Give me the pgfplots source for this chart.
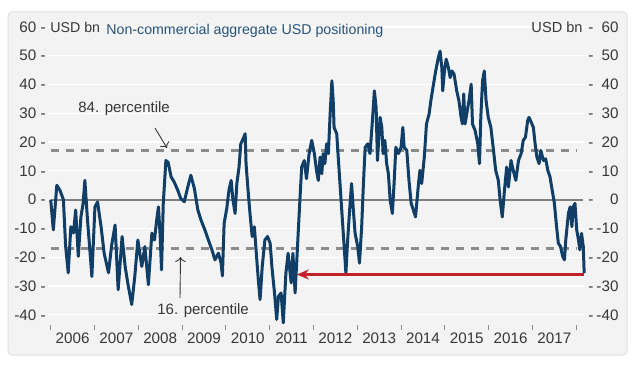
\documentclass[border=0pt]{standalone}
\usepackage{fontspec}
\setmainfont{Liberation Sans}
\usepackage{pgfplots}
\pgfplotsset{compat=1.18}
\usetikzlibrary{arrows.meta}
\definecolor{panel}{RGB}{243,243,243}
\definecolor{panelborder}{RGB}{224,224,224}
\definecolor{lineblue}{RGB}{16,62,102}
\definecolor{titleblue}{RGB}{38,82,122}
\definecolor{txt}{RGB}{55,55,55}
\definecolor{dashgray}{RGB}{140,140,140}
\definecolor{zerogray}{RGB}{128,128,128}
\definecolor{arrowred}{RGB}{196,32,44}
\newcommand\lab[1]{#1~-}
\newcommand\rlab[1]{-\makebox[12.5pt][r]{#1}}
\begin{document}
\begin{tikzpicture}[x=0.5pt,y=0.5pt]
\useasboundingbox (0,0) rectangle (640,364);
\fill[panel, draw=panelborder, line width=0.5pt, rounded corners=2pt] (8,9) rectangle (627,352);
\begin{axis}[
  at={(23.75pt,18.1pt)}, anchor=south west, scale only axis,
  width=269.25pt, height=152.6pt,
  xmin=2005.927, xmax=2018.222, ymin=-44.5, ymax=61.5,
  axis line style={draw=none},
  ytick={-40,-30,-20,-10,0,10,20,30,40,50,60},
  yticklabels={\lab{-40},\lab{-30},\lab{-20},\lab{-10},\lab{0},\lab{10},\lab{20},\lab{30},\lab{40},\lab{50},\lab{60}},
  yticklabel style={anchor=east, inner sep=0pt, xshift=-0.75pt, text=txt, font=\fontsize{7.6}{9}\selectfont},
  xtick={2006.5,2007.5,2008.5,2009.5,2010.5,2011.5,2012.5,2013.5,2014.5,2015.5,2016.5,2017.5},
  xticklabels={2006,2007,2008,2009,2010,2011,2012,2013,2014,2015,2016,2017},
  xticklabel style={anchor=north, inner sep=0pt, yshift=-2.5pt, text=txt, font=\fontsize{7.6}{9}\selectfont},
  minor xtick={2006,2007,2008,2009,2010,2011,2012,2013,2014,2015,2016,2017,2018},
  xtick pos=bottom, ytick pos=left,
  major tick length=0pt, minor tick length=2.5pt, tick align=center,
  minor x tick style={draw=gray!90, line width=0.5pt},
  ymajorgrids, major grid style={white, line width=0.6pt},
]
\addplot[zerogray, line width=1pt, forget plot] coordinates {(2006,0) (2018.15,0)};
\addplot[dashgray, line width=1.25pt, dash pattern=on 4pt off 3.5pt, forget plot] coordinates {(2006,17) (2018.0,17)};
\addplot[dashgray, line width=1.25pt, dash pattern=on 4pt off 3.5pt, forget plot] coordinates {(2006,-17) (2018.0,-17)};
\addplot[lineblue, line width=1.5pt, line join=round] table {
x y
2006.00 0
2006.06 -10.5
2006.14 5
2006.21 3.3
2006.29 0
2006.34 -16
2006.40 -25.4
2006.46 -9.4
2006.52 -11.6
2006.57 -3.6
2006.63 -19.7
2006.69 -6
2006.74 -1.3
2006.78 6.7
2006.84 -7
2006.90 -18.6
2006.94 -26.7
2007.01 -2.5
2007.07 -0.8
2007.15 -9.4
2007.22 -18.6
2007.32 -25.4
2007.39 -16
2007.47 -8.8
2007.54 -31.3
2007.63 -12.8
2007.70 -23.2
2007.76 -29
2007.85 -36.4
2007.92 -26.7
2007.99 -14
2008.08 -23.2
2008.15 -16.3
2008.23 -29.5
2008.31 -11.6
2008.37 -14
2008.42 -7
2008.46 -2.5
2008.50 -12.8
2008.53 -24.4
2008.57 -1.3
2008.63 13.6
2008.68 13
2008.75 7.9
2008.82 6.1
2008.90 3.3
2008.97 0.4
2009.05 -0.7
2009.13 4.4
2009.20 8.5
2009.28 3.9
2009.36 -3.6
2009.43 -7
2009.52 -10.5
2009.60 -14
2009.68 -17.4
2009.75 -20.9
2009.83 -18.6
2009.89 -22
2009.92 -26.5
2009.96 -8.2
2010.02 -3
2010.07 3.3
2010.12 6.7
2010.16 0
2010.21 -4.8
2010.25 5.6
2010.30 11.3
2010.34 19.4
2010.41 21.7
2010.44 22.9
2010.46 12.5
2010.50 4.4
2010.55 -4.8
2010.60 -12.8
2010.65 -9.4
2010.70 -19.7
2010.74 -27.8
2010.78 -34.7
2010.83 -23.2
2010.89 -14
2010.95 -12.8
2011.01 -15.1
2011.05 -23.2
2011.11 -32.4
2011.16 -41.6
2011.20 -33.6
2011.26 -32.4
2011.31 -42.8
2011.37 -25.5
2011.42 -18.6
2011.49 -28.9
2011.53 -18.6
2011.58 -32.4
2011.62 -20.9
2011.65 -11.7
2011.69 0
2011.73 11.3
2011.79 13.6
2011.84 7.3
2011.90 16
2011.96 20.6
2012.02 16
2012.07 10
2012.11 6.7
2012.15 14.8
2012.19 9
2012.22 16
2012.26 12.5
2012.30 19.4
2012.34 16
2012.38 29.8
2012.42 41.3
2012.45 34.4
2012.47 25.1
2012.53 22.9
2012.58 11.3
2012.64 -2.5
2012.68 -11.7
2012.74 -25.5
2012.78 -14
2012.83 -2.5
2012.87 5.6
2012.91 -3.6
2012.95 -11.7
2013.01 -16.3
2013.05 -22
2013.10 -9.4
2013.14 5.6
2013.18 18.2
2013.24 19.4
2013.29 16
2013.34 26.3
2013.39 37.8
2013.43 32
2013.46 13.6
2013.52 28.6
2013.56 25.1
2013.59 16
2013.63 20.6
2013.67 12.5
2013.71 9
2013.75 0
2013.80 -4.8
2013.84 5.6
2013.88 18.2
2013.94 16
2014.00 18.2
2014.04 25.1
2014.07 18.2
2014.13 17.1
2014.18 6.7
2014.23 -1.3
2014.28 -3.6
2014.33 -6
2014.39 4.4
2014.43 10.2
2014.47 5.6
2014.53 14.8
2014.58 26.3
2014.64 29.8
2014.68 34.4
2014.74 40.1
2014.79 44.7
2014.85 49.3
2014.89 51.6
2014.93 45.9
2014.95 37.8
2014.99 44.7
2015.03 48.8
2015.08 45.9
2015.12 42.4
2015.16 44.7
2015.21 43.6
2015.27 37.8
2015.32 34.4
2015.37 28.6
2015.40 26.3
2015.43 36.7
2015.46 26.3
2015.50 29.8
2015.55 34.4
2015.60 40.1
2015.63 26.3
2015.69 24
2015.75 19.4
2015.79 12.5
2015.82 28.6
2015.86 41.3
2015.90 44.7
2015.94 34.4
2015.99 28.6
2016.05 25.1
2016.11 17.1
2016.16 10.2
2016.22 6.7
2016.26 0
2016.31 -6
2016.36 3.3
2016.41 11.3
2016.45 4.4
2016.51 13.6
2016.56 10.2
2016.62 6.7
2016.68 13.6
2016.74 16
2016.79 20.6
2016.84 21.7
2016.89 27.5
2016.92 28.6
2016.97 26.9
2017.02 25.1
2017.06 19.4
2017.10 14.8
2017.15 12.5
2017.19 17.1
2017.25 13.6
2017.30 14.2
2017.35 10.2
2017.40 7.9
2017.45 3.3
2017.50 -1.3
2017.55 -9.4
2017.59 -15.1
2017.64 -16.3
2017.69 -19.7
2017.73 -20.9
2017.76 -14
2017.82 -4.8
2017.86 -2.5
2017.90 -9.4
2017.93 -2.5
2017.97 -1.3
2018.01 -10.5
2018.05 -14
2018.08 -17.4
2018.12 -11.7
2018.16 -16.3
2018.18 -25.5
};
\draw[arrowred, line width=1.2pt, -{Stealth[length=6pt,width=5pt]}] (axis cs:2018.17,-26) -- (axis cs:2011.62,-26);
\end{axis}
\begin{axis}[
  at={(23.75pt,18.1pt)}, anchor=south west, scale only axis,
  width=269.25pt, height=152.6pt,
  xmin=2005.927, xmax=2018.222, ymin=-44.5, ymax=61.5,
  axis line style={draw=none},
  ytick={-40,-30,-20,-10,0,10,20,30,40,50,60},
  yticklabels={\rlab{-40},\rlab{-30},\rlab{-20},\rlab{-10},\rlab{0},\rlab{10},\rlab{20},\rlab{30},\rlab{40},\rlab{50},\rlab{60}},
  ytick pos=right, yticklabel pos=right,
  yticklabel style={anchor=west, inner sep=0pt, xshift=1pt, text=txt, font=\fontsize{7.6}{9}\selectfont},
  xtick=\empty, major tick length=0pt,
]
\end{axis}
\node[anchor=base west, inner sep=0pt, text=txt, font=\fontsize{7.1}{9}\selectfont] at (50,331.7) {USD bn};
\node[anchor=base west, inner sep=0pt, text=titleblue, font=\fontsize{7.1}{9}\selectfont] at (106,329) {Non-commercial aggregate USD positioning};
\node[anchor=base east, inner sep=0pt, text=txt, font=\fontsize{7.3}{9}\selectfont] at (583,331.7) {USD bn};
\node[anchor=base west, inner sep=0pt, text=txt, font=\fontsize{7.5}{9}\selectfont] at (78,251) {84. percentile};
\draw[txt, line width=0.45pt, -{To[length=2.5pt]}] (155,236) -- (167,216);
\node[anchor=base west, inner sep=0pt, text=txt, font=\fontsize{7.5}{9}\selectfont] at (157,49.7) {16. percentile};
\draw[txt, line width=0.45pt, -{To[length=2.5pt]}] (180,66) -- (180.5,107);
\end{tikzpicture}
\end{document}
